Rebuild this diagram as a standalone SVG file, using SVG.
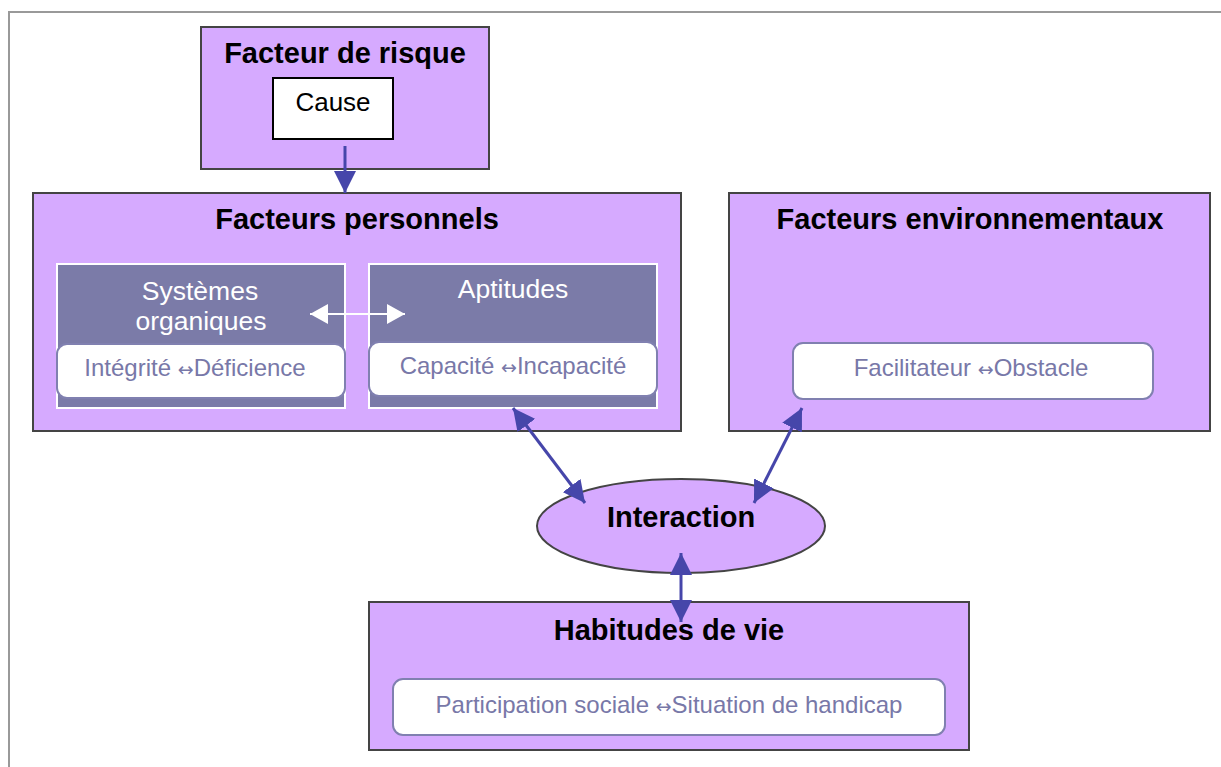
<svg xmlns="http://www.w3.org/2000/svg" width="1221" height="767" viewBox="0 0 1221 767">
<style>
.box{fill:#d6aaff;stroke:#444;stroke-width:2}
.sub{fill:#7b7ba8;stroke:#fff;stroke-width:2}
.pill{fill:#fff;stroke:#8080b0;stroke-width:2}
.title{font-family:"Liberation Sans",Arial,sans-serif;font-weight:bold;font-size:29px;fill:#000;text-anchor:middle}
.wt{font-family:"Liberation Sans",Arial,sans-serif;font-size:26.5px;fill:#fff;text-anchor:middle}
.pt{font-family:"Liberation Sans",Arial,sans-serif;font-size:24px;fill:#7878a8;text-anchor:middle}
.ar{font-family:"DejaVu Sans",sans-serif;font-size:19px}
.conn{stroke:#4646aa;stroke-width:3;fill:none}
</style>
<defs>
<marker id="ah" viewBox="0 0 10 10" refX="10" refY="5" markerWidth="22" markerHeight="22" markerUnits="userSpaceOnUse" orient="auto-start-reverse">
<path d="M0,0 L10,5 L0,10 Z" fill="#4646aa"/>
</marker>
<marker id="wh" viewBox="0 0 10 10" refX="10" refY="5" markerWidth="18" markerHeight="20" markerUnits="userSpaceOnUse" orient="auto-start-reverse" preserveAspectRatio="none">
<path d="M0,0 L10,5 L0,10 Z" fill="#fff"/>
</marker>
</defs>
<rect x="9" y="12" width="1230" height="770" fill="#fff" stroke="#999" stroke-width="2"/>

<g id="facteur-risque">
<rect class="box" x="201" y="27" width="288" height="142"/>
<text class="title" x="345" y="63">Facteur de risque</text>
<rect x="273" y="78" width="120" height="61" fill="#fff" stroke="#000" stroke-width="2"/>
<text x="333" y="111" font-family="Liberation Sans,Arial,sans-serif" font-size="26" text-anchor="middle" fill="#000">Cause</text>
</g>

<g id="facteurs-personnels">
<rect class="box" x="33" y="193" width="648" height="238"/>
<text class="title" x="357" y="229">Facteurs personnels</text>
</g>
<g id="systemes-organiques">
<rect class="sub" x="57" y="264" width="288" height="144"/>
<text class="wt" x="200" y="300">Systèmes</text>
<text class="wt" x="201" y="330">organiques</text>
<rect class="pill" x="57" y="344" width="288" height="54" rx="10"/>
<text class="pt" x="195" y="376">Intégrité <tspan class="ar">↔</tspan>Déficience</text>
</g>
<g id="aptitudes">
<rect class="sub" x="369" y="264" width="288" height="144"/>
<text class="wt" x="513" y="298">Aptitudes</text>
<rect class="pill" x="369" y="342" width="288" height="54" rx="10"/>
<text class="pt" x="513" y="374">Capacité <tspan class="ar">↔</tspan>Incapacité</text>
</g>

<g id="facteurs-environnementaux">
<rect class="box" x="729" y="193" width="481" height="238"/>
<text class="title" x="970" y="229">Facteurs environnementaux</text>
<rect class="pill" x="793" y="343" width="360" height="56" rx="10"/>
<text class="pt" x="971" y="376">Facilitateur <tspan class="ar">↔</tspan>Obstacle</text>
</g>

<g id="habitudes-de-vie">
<rect class="box" x="369" y="602" width="600" height="148"/>
<text class="title" x="669" y="640">Habitudes de vie</text>
<rect class="pill" x="393" y="679" width="552" height="56" rx="10"/>
<text class="pt" x="669" y="713">Participation sociale <tspan class="ar">↔</tspan>Situation de handicap</text>
</g>

<g id="interaction">
<ellipse cx="681" cy="526" rx="144" ry="47" fill="#d6aaff" stroke="#444" stroke-width="2"/>
<text class="title" x="681" y="527">Interaction</text>
</g>

<g id="connectors">
<line class="conn" x1="345" y1="146" x2="345" y2="193" marker-end="url(#ah)"/>
<line class="conn" x1="513" y1="408" x2="585" y2="503" marker-start="url(#ah)" marker-end="url(#ah)"/>
<line class="conn" x1="802" y1="408" x2="754" y2="503" marker-start="url(#ah)" marker-end="url(#ah)"/>
<line class="conn" x1="681" y1="553" x2="681" y2="622" marker-start="url(#ah)" marker-end="url(#ah)"/>
<line x1="310" y1="314" x2="405" y2="314" stroke="#fff" stroke-width="2" marker-start="url(#wh)" marker-end="url(#wh)"/>
</g>
</svg>
